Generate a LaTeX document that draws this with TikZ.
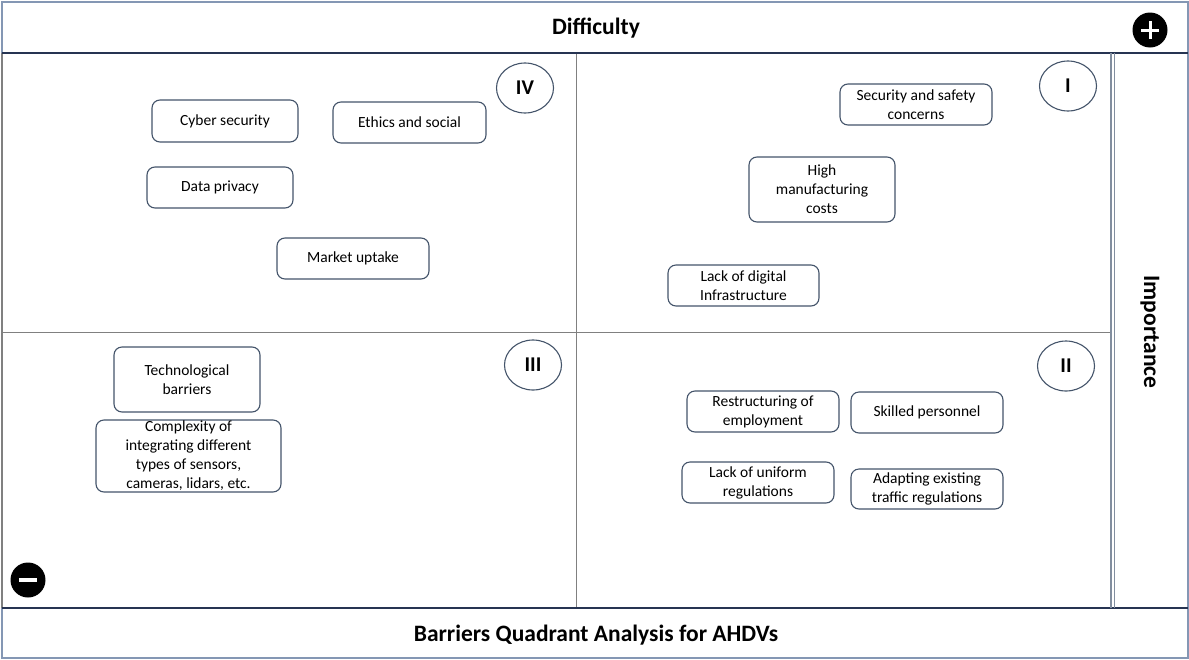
\documentclass[tikz,border=0pt]{standalone}
\usepackage{fontspec}
\setmainfont{Carlito}
\usetikzlibrary{calc,shapes.geometric}
\definecolor{framec}{RGB}{132,151,180}
\definecolor{darkline}{RGB}{38,52,82}
\definecolor{gridc}{RGB}{128,128,128}
\definecolor{boxc}{RGB}{68,84,106}
\tikzset{
  bx/.style={draw=boxc, line width=1.1pt, rounded corners=8pt, fill=white,
    align=center, inner sep=1pt, font=\fontsize{15.5}{19}\selectfont},
  quad/.style={draw=boxc, line width=1.1pt, ellipse, minimum width=57pt,
    minimum height=50pt, inner sep=0pt, font=\fontsize{21}{21}\selectfont\bfseries},
  signc/.style={circle, fill=black, minimum size=35pt, inner sep=0pt},
  title/.style={font=\fontsize{23.5}{26}\selectfont\bfseries}
}
\begin{document}
\begin{tikzpicture}[x=1pt, y=-1pt]
\useasboundingbox (0,0) rectangle (1189,659);
% quadrant grid
\draw[gridc, line width=1pt] (576,53) -- (576,608);
\draw[gridc, line width=1pt] (2,332) -- (1111,332);
% outer frame and bars
\draw[framec, line width=1.8pt] (2,2) rectangle (1188,658);
\draw[gridc, line width=1.8pt] (2,53) -- (2,608);
\draw[darkline, line width=1.8pt] (2,53) -- (1188,53);
\draw[darkline, line width=1.8pt] (2,608) -- (1188,608);
\draw[framec!60!gridc, line width=1.3pt] (1111,53) -- (1111,608);
\draw[framec!60!gridc, line width=1.3pt] (1114.5,53) -- (1114.5,608);
% axis titles
\node[title] (diff) at (596,28) {Difficulty};
\node[title] (caption) at (596,635) {Barriers Quadrant Analysis for AHDVs};
\node[title, rotate=-90] (imp) at (1150,332) {Importance};
% plus / minus signs
\node[signc] (plus) at (1150,30) {};
\draw[white, line width=3pt] ($(plus)+(-9,0)$) -- ($(plus)+(9,0)$);
\draw[white, line width=3pt] ($(plus)+(0,-9)$) -- ($(plus)+(0,9)$);
\node[signc] (minus) at (28,580) {};
\draw[white, line width=3.5pt] ($(minus)+(-9,0)$) -- ($(minus)+(9,0)$);
% quadrant labels
\node[quad] (q4) at (525,88) {IV};
\node[quad] (q1) at (1068,86) {I};
\node[quad] (q3) at (533,365) {III};
\node[quad] (q2) at (1066,366) {II};
% quadrant IV
\node[bx, minimum width=146, minimum height=42] (cyber) at (225,121) {Cyber security};
\node[bx, minimum width=153, minimum height=41] (ethics) at (409.5,122.5) {Ethics and social};
\node[bx, minimum width=146, minimum height=41] (privacy) at (220,187.5) {Data privacy};
\node[bx, minimum width=152, minimum height=41] (market) at (353,258.5) {Market uptake};
% quadrant I
\node[bx, minimum width=152, minimum height=41] (safety) at (916,104.5) {Security and safety\\concerns};
\node[bx, minimum width=146, minimum height=65] (costs) at (822,189.5) {High\\manufacturing\\costs};
\node[bx, minimum width=151, minimum height=41] (infra) at (743.5,285.5) {Lack of digital\\Infrastructure};
% quadrant III
\node[bx, minimum width=146, minimum height=65] (tech) at (187,379.5) {Technological\\barriers};
\node[bx, minimum width=185, minimum height=72] (sensors) at (188.5,456) {Complexity of\\integrating different\\types of sensors,\\cameras, lidars, etc.};
% quadrant II
\node[bx, minimum width=152, minimum height=41] (employ) at (763,411.5) {Restructuring of\\employment};
\node[bx, minimum width=152, minimum height=41] (skilled) at (927,412.5) {Skilled personnel};
\node[bx, minimum width=152, minimum height=41] (uniform) at (758,482.5) {Lack of uniform\\regulations};
\node[bx, minimum width=152, minimum height=40] (traffic) at (927,489) {Adapting existing\\traffic regulations};
\end{tikzpicture}
\end{document}
